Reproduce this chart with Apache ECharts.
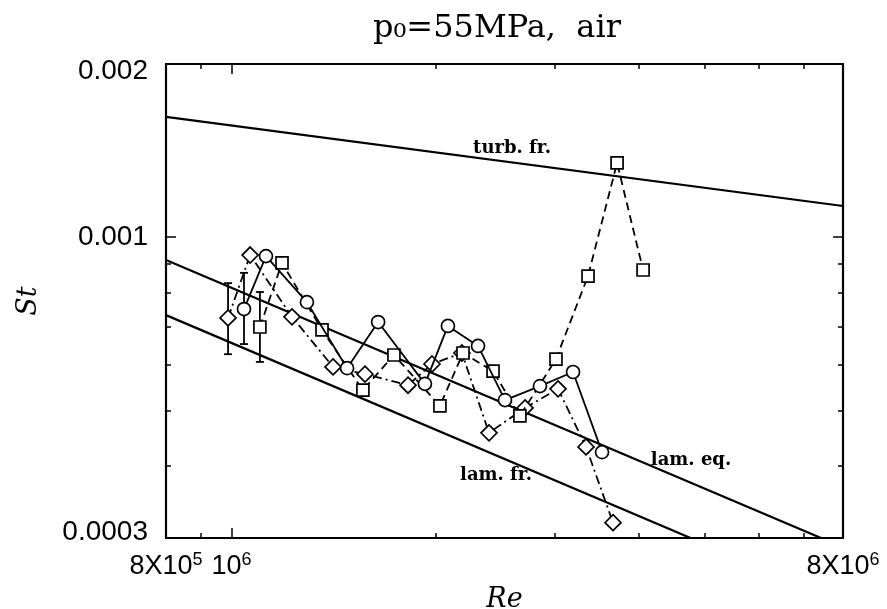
<!DOCTYPE html>
<html>
<head>
<meta charset="utf-8">
<script src="https://cdn.jsdelivr.net/npm/echarts@6/dist/echarts.min.js"></script>
<style>
  html, body { margin: 0; padding: 0; background: #fff; }
  #chart { width: 887px; height: 609px; }
</style>
</head>
<body>
<div id="chart"></div>
<script>
// Reference correlations (two end points each, straight lines in log-log)
const refRe = [8e5, 8e6];
const turbFrSt = [0.001618, 0.001133];
const lamEqSt = [0.000913, 0.000289];
const lamFrSt = [0.000732, 0.0002315];

// Measured Stanton numbers, three runs
const circleRe = [1.043e6, 1.124e6, 1.292e6, 1.481e6, 1.646e6, 1.930e6, 2.087e6, 2.312e6, 2.534e6, 2.854e6, 3.194e6, 3.525e6];
const circleSt = [0.000750, 0.000927, 0.000771, 0.000592, 0.000712, 0.000556, 0.000701, 0.000647, 0.000521, 0.000551, 0.000583, 0.000423];

const squareRe = [1.101e6, 1.187e6, 1.360e6, 1.563e6, 1.737e6, 2.031e6, 2.197e6, 2.433e6, 2.666e6, 3.014e6, 3.361e6, 3.710e6, 4.053e6];
const squareSt = [0.000698, 0.000902, 0.000690, 0.000542, 0.000624, 0.000509, 0.000629, 0.000585, 0.000489, 0.000614, 0.000856, 0.001346, 0.000877];

const diamondRe = [9.88e5, 1.065e6, 1.228e6, 1.412e6, 1.574e6, 1.822e6, 1.977e6, 2.189e6, 2.400e6, 2.713e6, 3.035e6, 3.338e6, 3.659e6];
const diamondSt = [0.000724, 0.000931, 0.000727, 0.000595, 0.000578, 0.000553, 0.000602, 0.000629, 0.000457, 0.000505, 0.000545, 0.000432, 0.000319];

// Uncertainty bars on the first point of each run
const errRe = [9.88e5, 1.043e6, 1.101e6];
const errLow = [0.000626, 0.000652, 0.000607];
const errHigh = [0.000832, 0.000867, 0.000803];

// Axis ticks and labels
const xMin = 8e5, xMax = 8e6;
const yMin = 0.0003, yMax = 0.002;
const xLabelValues = [8e5, 1e6, 8e6];
const xLabelTexts = ['{b|8X10}{s|5}', '{b|10}{s|6}', '{b|8X10}{s|6}'];
const xMajorTicks = [1e6];
const xMinorTicks = [9e5, 2e6, 3e6, 4e6, 5e6, 6e6, 7e6];
const yLabelValues = [0.0003, 0.001, 0.002];
const yLabelTexts = ['{lo|0.0003}', '{mid|0.001}', '{hi|0.002}'];
const yMajorTicks = [0.001];
const yMinorTicks = [0.0004, 0.0005, 0.0006, 0.0007, 0.0008, 0.0009];

const zip = (xs, ys) => xs.map((x, i) => [x, ys[i]]);
const pick = (vals, texts) => v => {
  const i = vals.findIndex(t => Math.abs(t - v) / t < 1e-6);
  return i >= 0 ? texts[i] : '';
};

const black = '#000';
const serif = "'DejaVu Serif', serif";
const sans = "'Liberation Sans', Arial, sans-serif";

function xAxisDef(pos, ticks, len, withLabels) {
  return {
    type: 'log', logBase: 10, position: pos, min: xMin, max: xMax,
    axisLine: { show: withLabels, onZero: false, lineStyle: { color: black, width: 2.2 } },
    axisTick: { show: true, inside: true, length: len, customValues: ticks, lineStyle: { color: black, width: 1.5 } },
    axisLabel: withLabels && pos === 'bottom' ? {
      show: true, customValues: xLabelValues, margin: 13, interval: 0,
      formatter: pick(xLabelValues, xLabelTexts),
      color: black, fontFamily: sans, fontSize: 27,
      rich: {
        b: { fontFamily: sans, fontSize: 27, lineHeight: 31, color: black },
        s: { fontFamily: sans, fontSize: 18, lineHeight: 18, verticalAlign: 'top', color: black }
      }
    } : { show: false },
    splitLine: { show: false }, minorTick: { show: false }, minorSplitLine: { show: false },
    name: withLabels && pos === 'bottom' ? 'Re' : '',
    nameLocation: 'middle', nameGap: 48,
    nameTextStyle: { fontFamily: serif, fontStyle: 'italic', fontSize: 27, color: black }
  };
}

function yAxisDef(pos, ticks, len, withLabels) {
  const lab = { fontFamily: sans, fontSize: 28, color: black };
  return {
    type: 'log', logBase: 10, position: pos, min: yMin, max: yMax,
    axisLine: { show: withLabels, onZero: false, lineStyle: { color: black, width: 2.2 } },
    axisTick: { show: true, inside: true, length: len, customValues: ticks, lineStyle: { color: black, width: 1.5 } },
    axisLabel: withLabels && pos === 'left' ? {
      show: true, customValues: yLabelValues, margin: 18, interval: 0,
      formatter: pick(yLabelValues, yLabelTexts),
      color: black, fontFamily: sans, fontSize: 28,
      rich: {
        lo: Object.assign({ padding: [0, 0, 12, 0] }, lab),
        mid: lab,
        hi: Object.assign({ padding: [14, 0, 0, 0] }, lab)
      }
    } : { show: false },
    splitLine: { show: false }, minorTick: { show: false }, minorSplitLine: { show: false },
    name: withLabels && pos === 'left' ? 'St' : '',
    nameLocation: 'middle', nameGap: 124, nameRotate: 90,
    nameTextStyle: { fontFamily: serif, fontStyle: 'italic', fontSize: 27, color: black }
  };
}

const chart = echarts.init(document.getElementById('chart'), null, { renderer: 'canvas' });

const refLine = (st) => ({
  type: 'line', data: zip(refRe, st), symbol: 'none', silent: true, clip: true,
  lineStyle: { color: black, width: 2.2 }, z: 2
});

const noteFont = "bold 18px 'DejaVu Serif'";

chart.setOption({
  animation: false,
  backgroundColor: '#fff',
  grid: { left: 166, right: 44, top: 64, bottom: 71, outerBoundsMode: 'none', containLabel: false },
  xAxis: [
    xAxisDef('bottom', xMajorTicks, 10, true),
    xAxisDef('top', xMajorTicks, 10, true),
    xAxisDef('bottom', xMinorTicks, 5, false),
    xAxisDef('top', xMinorTicks, 5, false)
  ],
  yAxis: [
    yAxisDef('left', yMajorTicks, 10, true),
    yAxisDef('right', yMajorTicks, 10, true),
    yAxisDef('left', yMinorTicks, 5, false),
    yAxisDef('right', yMinorTicks, 5, false)
  ],
  graphic: [
    { type: 'text', x: 497, y: 29, style: { text: 'p\u2080=55MPa,  air', font: "32px 'DejaVu Serif'", fill: black, align: 'center', verticalAlign: 'middle' } },
    { type: 'text', x: 512, y: 148, style: { text: 'turb. fr.', font: noteFont, fill: black, align: 'center', verticalAlign: 'middle' } },
    { type: 'text', x: 496, y: 475, style: { text: 'lam. fr.', font: noteFont, fill: black, align: 'center', verticalAlign: 'middle' } },
    { type: 'text', x: 691, y: 460, style: { text: 'lam. eq.', font: noteFont, fill: black, align: 'center', verticalAlign: 'middle' } }
  ],
  series: [
    refLine(turbFrSt),
    refLine(lamEqSt),
    refLine(lamFrSt),
    {
      type: 'custom', data: errRe.map((x, i) => [x, errLow[i], errHigh[i]]),
      encode: { x: 0, y: [1, 2] }, z: 3, silent: true,
      renderItem(params, api) {
        const lo = api.coord([api.value(0), api.value(1)]);
        const hi = api.coord([api.value(0), api.value(2)]);
        const w = 4;
        const st = { stroke: black, lineWidth: 1.8 };
        return { type: 'group', children: [
          { type: 'line', shape: { x1: lo[0], y1: lo[1], x2: hi[0], y2: hi[1] }, style: st },
          { type: 'line', shape: { x1: lo[0] - w, y1: lo[1], x2: lo[0] + w, y2: lo[1] }, style: st },
          { type: 'line', shape: { x1: hi[0] - w, y1: hi[1], x2: hi[0] + w, y2: hi[1] }, style: st }
        ] };
      }
    },
    {
      type: 'line', data: zip(diamondRe, diamondSt), symbol: 'diamond', symbolSize: 16,
      lineStyle: { color: black, width: 1.8, type: [9, 4, 2, 4] },
      itemStyle: { color: '#fff', borderColor: black, borderWidth: 1.7 }, z: 4
    },
    {
      type: 'line', data: zip(squareRe, squareSt), symbol: 'rect', symbolSize: 12,
      lineStyle: { color: black, width: 1.8, type: [8, 5] },
      itemStyle: { color: '#fff', borderColor: black, borderWidth: 1.7 }, z: 5
    },
    {
      type: 'line', data: zip(circleRe, circleSt), symbol: 'circle', symbolSize: 13,
      lineStyle: { color: black, width: 1.8, type: 'solid' },
      itemStyle: { color: '#fff', borderColor: black, borderWidth: 1.7 }, z: 6
    }
  ]
});
</script>
</body>
</html>
